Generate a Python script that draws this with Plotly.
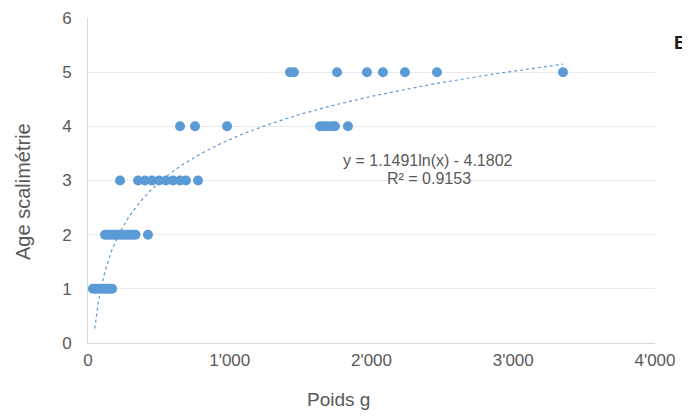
import numpy as np
import plotly.graph_objects as go

# Data (Poids g, Age scalimétrie)
poids_age1 = [35, 55, 70, 90, 105, 125, 140, 155, 170]
poids_age2 = [120, 141, 160, 176, 195, 212, 230, 247, 265, 282, 300, 317, 335, 423]
poids_age3 = [226, 353, 402, 451, 501, 550, 600, 649, 691, 776]
poids_age4 = [649, 755, 981, 1637, 1665, 1690, 1721, 1742, 1834]
poids_age5 = [1425, 1453, 1757, 1968, 2081, 2236, 2462, 3351]

x_vals = poids_age1 + poids_age2 + poids_age3 + poids_age4 + poids_age5
y_vals = ([1] * len(poids_age1) + [2] * len(poids_age2) + [3] * len(poids_age3)
          + [4] * len(poids_age4) + [5] * len(poids_age5))

# Logarithmic trendline as displayed on the chart
coef_a = 1.1491
coef_b = -4.1802
r2 = 0.9153
trend_x_min = 48
trend_x_max = max(x_vals)

x_tickvals = [0, 1000, 2000, 3000, 4000]
x_ticktext = ["0", "1'000", "2'000", "3'000", "4'000"]
y_tickvals = [0, 1, 2, 3, 4, 5, 6]

tx = np.linspace(trend_x_min, trend_x_max, 400)
ty = coef_a * np.log(tx) + coef_b

blue = "#5B9BD5"
grey_text = "#595959"
font_family = "Liberation Sans, Arial, sans-serif"

# The page body has an 8px margin; figure is sized to fit the window
OFF = 8
W, H = 690 - OFF, 416 - OFF
# plot area in window pixels: left 88, right 655, top 18, bottom 343
l, r, t, b = 88 - OFF, W - (655 - OFF), 18 - OFF, H - (343 - OFF)
pw, ph = W - l - r, H - t - b


def px(xp):
    return (xp - OFF - l) / pw


def py(yp):
    return 1 - (yp - OFF - t) / ph


fig = go.Figure()
fig.add_trace(go.Scatter(
    x=tx, y=ty, mode="lines",
    line=dict(color=blue, width=1.2, dash="dot"),
    hoverinfo="skip", showlegend=False,
))
fig.add_trace(go.Scatter(
    x=x_vals, y=y_vals, mode="markers",
    marker=dict(color=blue, size=10, line=dict(width=0)),
    showlegend=False,
))

fig.update_layout(
    width=W, height=H,
    margin=dict(l=l, r=r, t=t, b=b, pad=0, autoexpand=False),
    paper_bgcolor="white", plot_bgcolor="white",
    font=dict(family=font_family, size=16, color=grey_text),
    xaxis=dict(
        range=[0, 4000], tickvals=x_tickvals, ticktext=x_ticktext,
        showgrid=False, zeroline=False, automargin=False,
        showline=True, linecolor="#d9d9d9", linewidth=1,
        ticks="", tickfont=dict(size=17, color=grey_text),
        ticklabelstandoff=2,
    ),
    yaxis=dict(
        range=[0, 6], tickvals=y_tickvals, automargin=False,
        showgrid=True, gridcolor="#ebebeb", gridwidth=1,
        zeroline=False,
        showline=True, linecolor="#d9d9d9", linewidth=1,
        ticks="", tickfont=dict(size=17, color=grey_text),
        ticklabelstandoff=12,
    ),
    annotations=[
        dict(x=px(428), y=py(160), xref="paper", yref="paper",
             text=f"y = {coef_a}ln(x) - {abs(coef_b)}",
             showarrow=False, font=dict(size=16, color=grey_text),
             xanchor="center", yanchor="middle"),
        dict(x=px(429), y=py(179), xref="paper", yref="paper",
             text=f"R² = {r2}", showarrow=False,
             font=dict(size=16, color=grey_text),
             xanchor="center", yanchor="middle"),
        dict(x=px(690), y=py(42), xref="paper", yref="paper",
             text="<b>B</b>", showarrow=False,
             font=dict(size=19, color="#1a1a1a"),
             xanchor="right", yanchor="middle"),
        dict(x=px(338), y=py(399), xref="paper", yref="paper",
             text="Poids g", showarrow=False,
             font=dict(size=19, color=grey_text),
             xanchor="center", yanchor="middle"),
        dict(x=px(23), y=py(192), xref="paper", yref="paper",
             text="Age scalimétrie", showarrow=False, textangle=-90,
             font=dict(size=20, color=grey_text),
             xanchor="center", yanchor="middle"),
    ],
)

fig.write_html("out.html")
